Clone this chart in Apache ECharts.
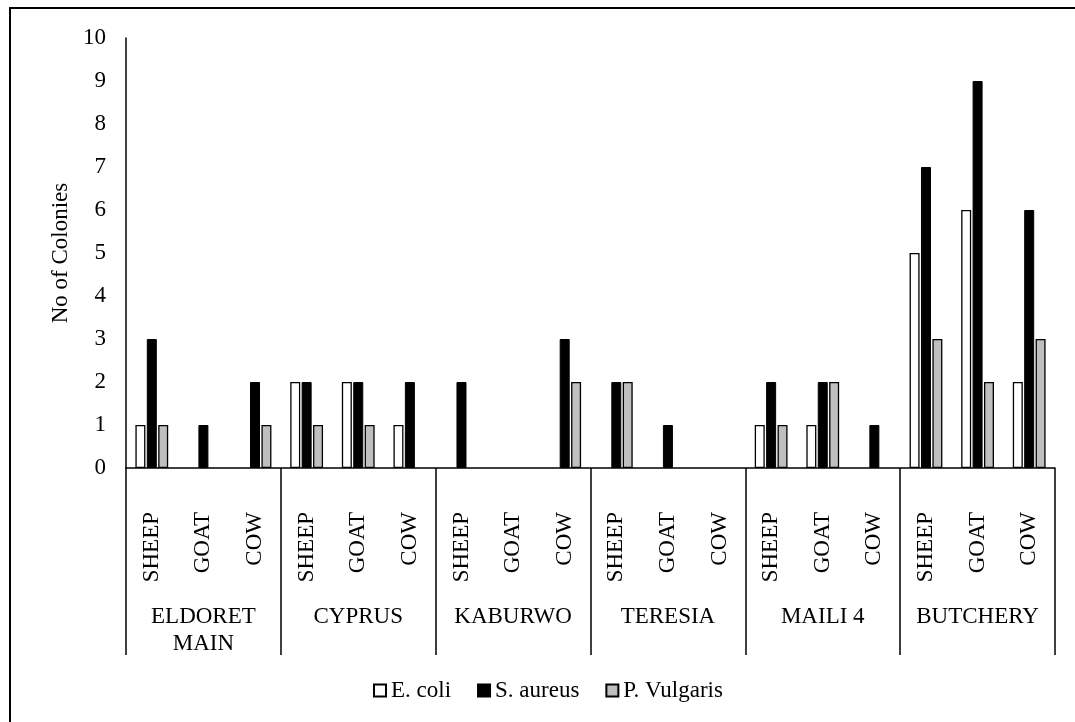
<!DOCTYPE html>
<html>
<head>
<meta charset="utf-8">
<script src="https://cdn.jsdelivr.net/npm/echarts@6/dist/echarts.min.js"></script>
<style>
  html, body { margin: 0; padding: 0; background: #fff; }
  #chart { width: 1075px; height: 722px; }
</style>
</head>
<body>
<div id="chart"></div>
<script>
// Sampling sites and the animal sources within each site
const markets = ['ELDORET\nMAIN', 'CYPRUS', 'KABURWO', 'TERESIA', 'MAILI 4', 'BUTCHERY'];
const animals = ['SHEEP', 'GOAT', 'COW'];

// Colony counts per site/animal, in the order of the flattened category list
const ecoli      = [1, 0, 0,  2, 2, 1,  0, 0, 0,  0, 0, 0,  1, 1, 0,  5, 6, 2];
const saureus    = [3, 1, 2,  2, 2, 2,  2, 0, 3,  2, 1, 0,  2, 2, 1,  7, 9, 6];
const pvulgaris  = [1, 0, 1,  1, 1, 0,  0, 0, 2,  2, 0, 0,  1, 2, 0,  3, 2, 3];

const yTicks = { min: 0, max: 10, interval: 1 };

const categories = [];
markets.forEach(() => animals.forEach(a => categories.push(a)));

const FONT = '"Liberation Serif", "Times New Roman", serif';
const FS = 23;

// zero counts get no outline so they leave no mark on the axis
const toItems = arr => arr.map(v => v === 0 ? { value: v, itemStyle: { borderWidth: 0, opacity: 0 } } : v);

const chart = echarts.init(document.getElementById('chart'), null, { renderer: 'canvas' });

const barBase = { type: 'bar', barWidth: 10, barGap: '14%', xAxisIndex: 0 };

chart.setOption({
  backgroundColor: '#ffffff',
  animation: false,
  textStyle: { fontFamily: FONT, color: '#000' },
  grid: { left: 126, right: 20, top: 38, bottom: 254, containLabel: false },
  legend: {
    bottom: 20,
    left: 373,
    padding: 0,
    icon: 'rect',
    itemWidth: 12,
    itemHeight: 12,
    itemGap: 26,
    textStyle: { fontFamily: FONT, fontSize: FS, color: '#000' },
    data: ['E. coli', 'S. aureus', 'P. Vulgaris']
  },
  xAxis: [
    {
      type: 'category',
      data: categories,
      position: 'bottom',
      axisLine: { show: true, lineStyle: { color: '#000', width: 1.5 } },
      axisTick: { show: false },
      axisLabel: {
        interval: 0,
        rotate: 90,
        margin: 44,
        fontFamily: FONT,
        fontSize: FS,
        color: '#000'
      },
      splitLine: { show: false }
    },
    {
      type: 'category',
      data: markets,
      position: 'bottom',
      offset: 0,
      axisLine: { show: false },
      axisTick: {
        show: true,
        alignWithLabel: false,
        length: 187,
        lineStyle: { color: '#000', width: 1.5 }
      },
      axisLabel: {
        interval: 0,
        margin: 135,
        fontFamily: FONT,
        fontSize: FS,
        lineHeight: 27,
        color: '#000',
        verticalAlign: 'top'
      },
      splitLine: { show: false }
    }
  ],
  yAxis: {
    type: 'value',
    min: yTicks.min,
    max: yTicks.max,
    interval: yTicks.interval,
    name: 'No of Colonies',
    nameLocation: 'middle',
    nameGap: 50,
    nameTextStyle: { fontFamily: FONT, fontSize: FS, color: '#000' },
    axisLine: { show: true, lineStyle: { color: '#000', width: 1.5 } },
    axisTick: { show: false },
    axisLabel: { margin: 20, fontFamily: FONT, fontSize: FS, color: '#000' },
    splitLine: { show: false }
  },
  series: [
    Object.assign({}, barBase, {
      name: 'E. coli',
      data: toItems(ecoli),
      itemStyle: { color: '#ffffff', borderColor: '#000', borderWidth: 1.3 }
    }),
    Object.assign({}, barBase, {
      name: 'S. aureus',
      data: toItems(saureus),
      itemStyle: { color: '#000000', borderColor: '#000', borderWidth: 1 }
    }),
    Object.assign({}, barBase, {
      name: 'P. Vulgaris',
      data: toItems(pvulgaris),
      itemStyle: { color: '#bfbfbf', borderColor: '#000', borderWidth: 1.3 }
    })
  ],
  graphic: [
    {
      type: 'rect',
      shape: { x: 10, y: 8, width: 1200, height: 900 },
      style: { fill: 'none', stroke: '#000', lineWidth: 2 },
      silent: true,
      z: 100
    }
  ]
});
</script>
</body>
</html>
